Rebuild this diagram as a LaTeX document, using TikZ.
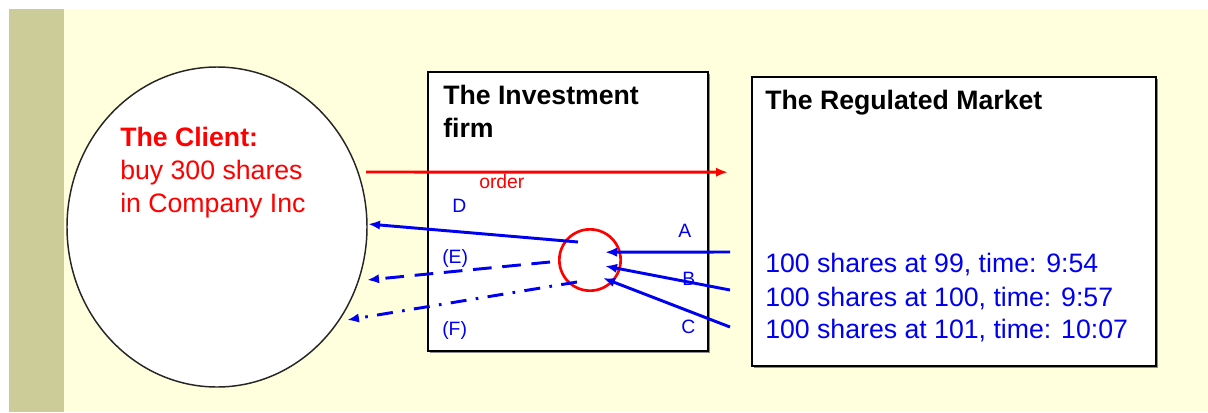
\documentclass[tikz,border=0pt]{standalone}
\usepackage{fontspec}
\setmainfont{Liberation Sans}
\usetikzlibrary{shapes.geometric, arrows.meta, shadows}
\definecolor{cream}{RGB}{255,255,221}
\definecolor{olive}{RGB}{204,204,153}
\definecolor{ordred}{RGB}{255,0,0}
\definecolor{fillblue}{RGB}{0,0,240}
\begin{document}
\begin{tikzpicture}
[x=0.75pt, y=-0.75pt, font=\fontsize{20}{24}\selectfont]
\tikzstyle{party}=[draw=black, line width=1.2pt, fill=white, inner sep=0pt, drop shadow={shadow xshift=1.5pt, shadow yshift=-1.5pt, fill=black!45, opacity=1}]
\tikzstyle{txt}=[anchor=base west, inner sep=0pt]
\tikzstyle{tag}=[txt, text=fillblue, font=\fontsize{14.5}{16}\selectfont]
\tikzstyle{fill line}=[draw=fillblue, line width=2.2pt, -{Latex[length=9pt, width=7pt]}]

% page
\useasboundingbox (0,0) rectangle (1208,412);
\fill[cream] (9,9) rectangle (1208,412);
\fill[olive] (9,9) rectangle (64,412);

% the three parties
\node[ellipse, draw=black!85, line width=1.1pt, fill=white, minimum width=225pt, minimum height=240pt]	(client)	at (217,227)	{};
\node[party, minimum width=210pt, minimum height=209pt]	(firm)		at (568,211.5)	{};
\node[party, minimum width=303pt, minimum height=217pt]	(market)	at (954,221.5)	{};
\node[circle, draw=ordred, line width=2pt, minimum size=46pt, inner sep=0pt]	(pool)	at (590,260)	{};

% texts
\node[txt, text=ordred]	(C0)	at (120,146)	{\textbf{The Client:}};
\node[txt, text=ordred]	(C1)	at (120,179)	{buy 300 shares};
\node[txt, text=ordred]	(C2)	at (120,212)	{in Company Inc};

\node[txt]	(F0)	at (443,104)	{\textbf{The Investment}};
\node[txt]	(F1)	at (443,137)	{\textbf{firm}};
\node[txt]	(M0)	at (765,109)	{\textbf{The Regulated Market}};

\node[txt, text=fillblue]	(M1)	at (765,272)	{100 shares at 99, time: 9:54};
\node[txt, text=fillblue]	(M2)	at (765,306)	{100 shares at 100, time: 9:57};
\node[txt, text=fillblue]	(M3)	at (765,338)	{100 shares at 101, time: 10:07};

\node[tag, text=ordred]	(order)	at (479,188)	{order};
\node[tag]	(D)		at (452,212)	{D};
\node[tag]	(E)		at (442,263)	{(E)};
\node[tag]	(F)		at (442,335)	{(F)};
\node[tag]	(A)		at (678,237)	{A};
\node[tag]	(B)		at (682,285)	{B};
\node[tag]	(C)		at (681,333)	{C};

% free ends
\coordinate	(o1)	at (366,172);
\coordinate	(o2)	at (728,172.2);
\coordinate	(a1)	at (730,252);
\coordinate	(a2)	at (605,252.2);
\coordinate	(b1)	at (730,290);
\coordinate	(b2)	at (605,266);
\coordinate	(c1)	at (730,327);
\coordinate	(c2)	at (603,278);
\coordinate	(d1)	at (578,242);
\coordinate	(d2)	at (368,224);
\coordinate	(e1)	at (550,262);
\coordinate	(e2)	at (367,280);
\coordinate	(f1)	at (577,282);
\coordinate	(f2)	at (347,320);

\draw [draw=ordred, line width=2.2pt, -{Latex[length=9pt, width=7pt]}] (o1)--(o2);
\draw [fill line] (a1)--(a2);
\draw [fill line] (b1)--(b2);
\draw [fill line] (c1)--(c2);
\draw [fill line] (d1)--(d2);
\draw [fill line, dash pattern=on 14pt off 8pt] (e1)--(e2);
\draw [fill line, dash pattern=on 12pt off 7pt on 2pt off 7pt] (f1)--(f2);
\end{tikzpicture}
\end{document}
